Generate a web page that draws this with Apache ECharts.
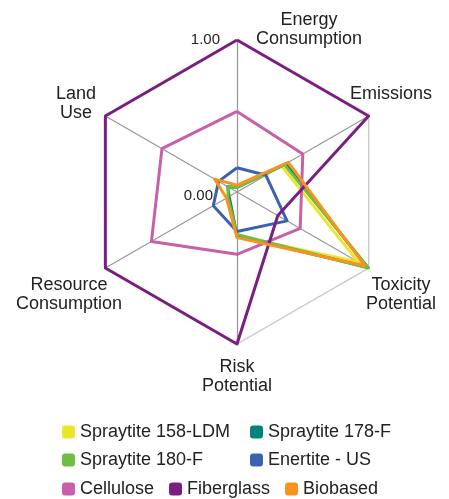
<!DOCTYPE html>
<html>
<head>
<meta charset="utf-8">
<script src="https://cdn.jsdelivr.net/npm/echarts@6/dist/echarts.min.js"></script>
<style>
  html, body { margin: 0; padding: 0; background: #fff; }
  #main { width: 449px; height: 499px; }
</style>
</head>
<body>
<div id="main"></div>
<script>
// indicators, counter-clockwise from the top
var indicators = ['Energy\nConsumption', 'Land\nUse', 'Resource\nConsumption', 'Risk\nPotential', 'Toxicity\nPotential', 'Emissions'];
var seriesNames = ['Spraytite 158-LDM', 'Spraytite 178-F', 'Spraytite 180-F', 'Enertite - US', 'Cellulose', 'Fiberglass', 'Biobased'];
var seriesColors = ['#ede52a', '#00857a', '#6cbe45', '#3a62ae', '#c660a9', '#7a1f7f', '#f7931e'];

var spraytite158 = [0.03, 0.07, 0.06, 0.29, 0.92, 0.34];
var spraytite178 = [0.03, 0.07, 0.06, 0.29, 0.99, 0.37];
var spraytite180 = [0.03, 0.065, 0.07, 0.28, 1.00, 0.36];
var enertite = [0.16, 0.14, 0.18, 0.26, 0.38, 0.22];
var cellulose = [0.53, 0.57, 0.65, 0.41, 0.48, 0.50];
var fiberglass = [1.00, 1.00, 1.00, 1.00, 0.31, 1.00];
var biobased = [0.045, 0.17, 0.08, 0.30, 0.97, 0.39];
var allValues = [spraytite158, spraytite178, spraytite180, enertite, cellulose, fiberglass, biobased];

var tickLabels = ['0.00', '1.00'];

var myChart = echarts.init(document.getElementById('main'));

var font = '"Liberation Sans", Arial, sans-serif';
var cx = 237, cy = 192, radius = 152;

// label positions (centre of the text block) for each indicator
var namePos = [[309, 29.5], [76, 104], [69, 295], [237, 377], [401, 295], [391, 94]];

var graphics = [];
indicators.forEach(function (name, i) {
    graphics.push({
        type: 'text',
        x: namePos[i][0],
        y: namePos[i][1],
        style: {
            text: name,
            fill: '#222',
            font: '18px ' + font,
            lineHeight: 19,
            align: 'center',
            verticalAlign: 'middle'
        }
    });
});
graphics.push({
    type: 'text', x: cx - 24, y: cy + 4,
    style: { text: tickLabels[0], fill: '#222', font: '15px ' + font, align: 'right', verticalAlign: 'middle' }
});
graphics.push({
    type: 'text', x: cx - 17, y: cy - radius,
    style: { text: tickLabels[1], fill: '#222', font: '15px ' + font, align: 'right', verticalAlign: 'middle' }
});

var series = seriesNames.map(function (name, i) {
    return {
        name: name,
        type: 'radar',
        symbol: 'none',
        itemStyle: { color: seriesColors[i] },
        lineStyle: { color: seriesColors[i], width: 3 },
        data: [{ value: allValues[i], name: name }]
    };
});

function legendRow(data, left, top, orient) {
    return {
        data: data,
        left: left,
        top: top,
        orient: orient,
        icon: 'roundRect',
        itemWidth: 13,
        itemHeight: 13,
        itemGap: orient === 'vertical' ? 8 : 15,
        itemTextGap: 6,
        padding: 0,
        selectedMode: false,
        textStyle: { fontSize: 18, fontFamily: font, color: '#222', lineHeight: 20 }
    };
}

var option = {
    animation: false,
    graphic: graphics,
    legend: [
        legendRow([seriesNames[0], seriesNames[2]], 62, 422, 'vertical'),
        legendRow([seriesNames[1], seriesNames[3]], 250, 422, 'vertical'),
        legendRow([seriesNames[4], seriesNames[5], seriesNames[6]], 62, 479, 'horizontal')
    ],
    radar: {
        center: [cx, cy],
        radius: radius,
        shape: 'polygon',
        splitNumber: 1,
        startAngle: 90,
        indicator: indicators.map(function (n) { return { name: n, min: 0, max: 1 }; }),
        axisName: { show: false },
        axisLine: { lineStyle: { color: '#9a9a9a', width: 1.3 } },
        splitLine: { lineStyle: { color: '#c8c8c8', width: 1.3 } },
        splitArea: { show: false },
        axisLabel: { show: false }
    },
    series: series
};

myChart.setOption(option);
</script>
</body>
</html>
